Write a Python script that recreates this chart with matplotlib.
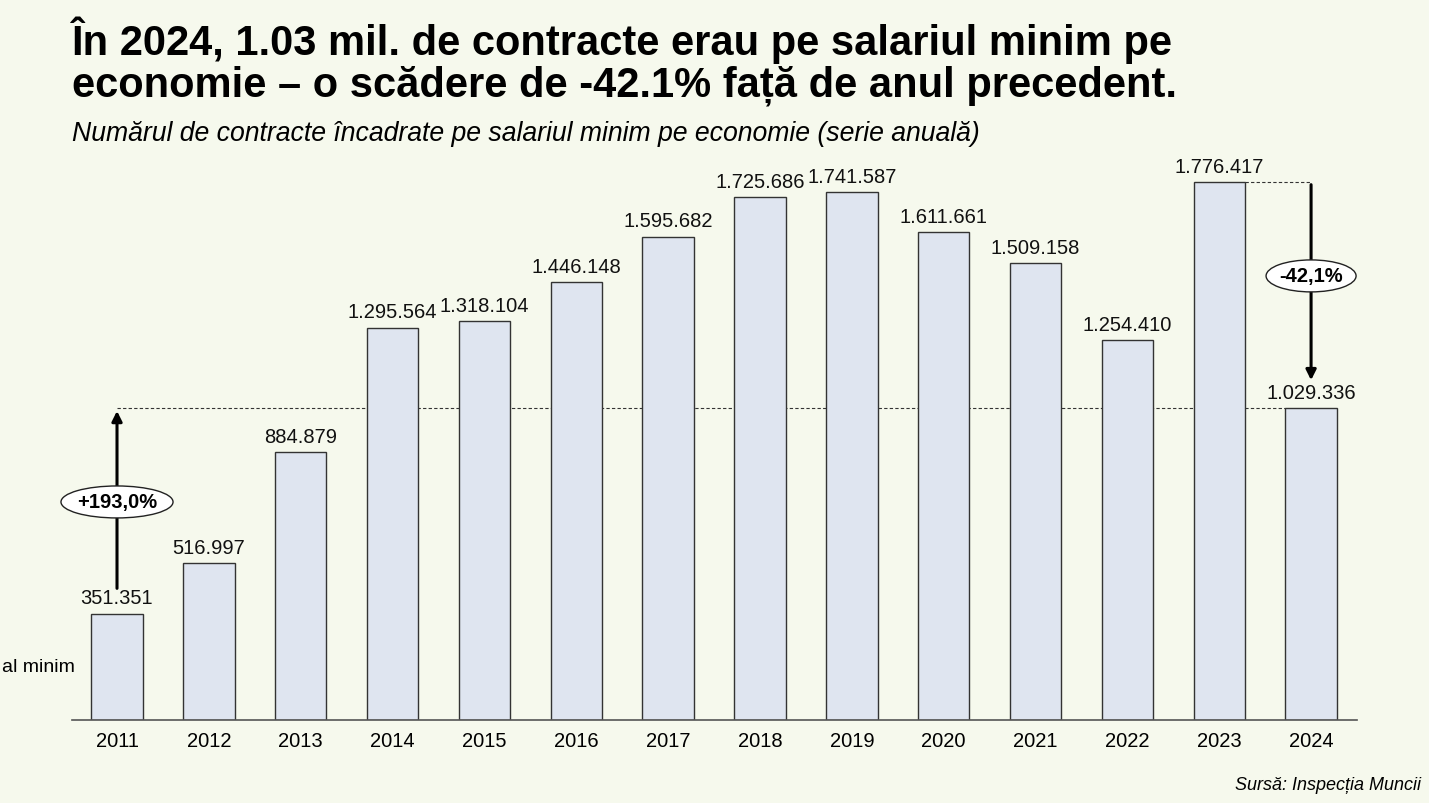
import matplotlib.pyplot as plt
from matplotlib.patches import Ellipse

# data
years = ["2011", "2012", "2013", "2014", "2015", "2016", "2017",
         "2018", "2019", "2020", "2021", "2022", "2023", "2024"]
contracts = [351351, 516997, 884879, 1295564, 1318104, 1446148, 1595682,
             1725686, 1741587, 1611661, 1509158, 1254410, 1776417, 1029336]
labels = ["351.351", "516.997", "884.879", "1.295.564", "1.318.104", "1.446.148",
          "1.595.682", "1.725.686", "1.741.587", "1.611.661", "1.509.158",
          "1.254.410", "1.776.417", "1.029.336"]
growth_label = "+193,0%"
drop_label = "-42,1%"

bg = "#f6f9ed"
bar_color = "#dfe5f0"

plt.rcParams['font.family'] = ['Liberation Sans', 'DejaVu Sans']

fig = plt.figure(figsize=(14.29, 8.04), dpi=100, facecolor=bg)
ax = fig.add_axes([72 / 1429, 83 / 804, (1357 - 72) / 1429, (721 - 160) / 804])
ax.set_facecolor(bg)

x = list(range(len(years)))
ax.bar(x, contracts, width=0.56, color=bar_color, edgecolor="#333333", linewidth=1.0, zorder=2)

ymax = 1852000
ax.set_ylim(0, ymax)
ax.set_xlim(-0.49, 13.5)

for i, (v, lab) in enumerate(zip(contracts, labels)):
    ax.text(i, v + 0.011 * ymax, lab, ha="center", va="bottom", fontsize=14.5, color="#111111")

ax.set_xticks(x)
ax.set_xticklabels(years, fontsize=14.5)
ax.tick_params(axis="x", length=0, pad=8)
ax.set_yticks([])
for s in ["top", "right", "left"]:
    ax.spines[s].set_visible(False)
ax.spines["bottom"].set_color("#555555")
ax.spines["bottom"].set_linewidth(1.2)

# reference lines
first, last, prev = contracts[0], contracts[-1], contracts[-2]
ax.plot([0, 12.72], [last, last], ls=(0, (3, 2)), color="#333333", lw=0.8, zorder=1)
ax.plot([12.28, 13], [prev, prev], ls=(0, (3, 2)), color="#333333", lw=0.8, zorder=1)

# arrow up 2011 -> 2024 level
ax.annotate("", xy=(0, last), xytext=(0, first + 0.04 * ymax),
            arrowprops=dict(arrowstyle="-|>,head_length=0.6,head_width=0.3", color="black", lw=2.2))
# arrow down 2023 -> 2024
ax.annotate("", xy=(13, last + 0.045 * ymax), xytext=(13, prev),
            arrowprops=dict(arrowstyle="-|>,head_length=0.6,head_width=0.3", color="black", lw=2.2))

# ellipse labels
for xc, yc, txt in [(0, (721 - 503) / 538 * 1776417, growth_label),
                    (13, (721 - 277) / 538 * 1776417, drop_label)]:
    w = 1.22 if txt == growth_label else 0.98
    e = Ellipse((xc, yc), width=w, height=0.057 * ymax, facecolor="white",
                edgecolor="#222222", lw=1.0, zorder=5, clip_on=False)
    ax.add_patch(e)
    ax.text(xc, yc, txt, ha="center", va="center", fontsize=14.5, fontweight="bold", zorder=6)

# titles
fig.text(72 / 1429, 1 - 55 / 804,
         "În 2024, 1.03 mil. de contracte erau pe salariul minim pe",
         ha="left", va="baseline", fontsize=30, fontweight="bold")
fig.text(72 / 1429, 1 - 97 / 804,
         "economie – o scădere de -42.1% față de anul precedent.",
         ha="left", va="baseline", fontsize=30, fontweight="bold")
fig.text(72 / 1429, 1 - 141 / 804,
         "Numărul de contracte încadrate pe salariul minim pe economie (serie anuală)",
         ha="left", va="baseline", fontsize=19.2, style="italic")
fig.text(75 / 1429, 1 - 668 / 804, "al minim", ha="right", va="center", fontsize=14)
fig.text(1421 / 1429, 1 - 786 / 804, "Sursă: Inspecția Muncii", ha="right", va="center",
         fontsize=13, style="italic")

fig.savefig("out.png", dpi=100, facecolor=bg)
